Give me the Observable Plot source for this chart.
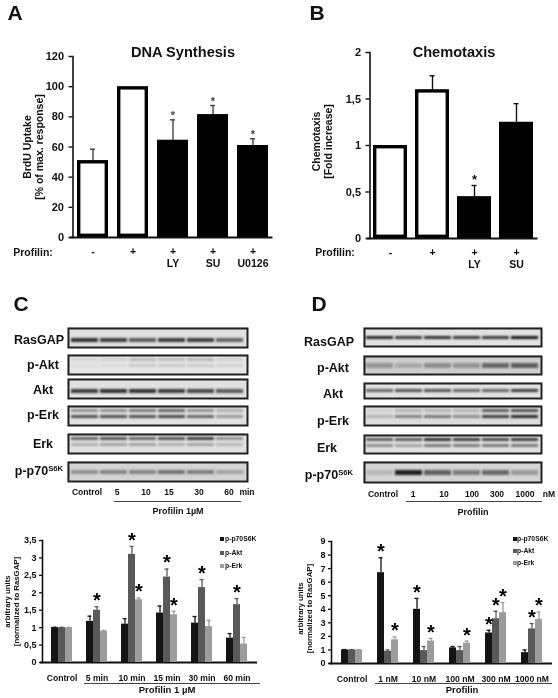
<!DOCTYPE html>
<html><head><meta charset="utf-8">
<script src="https://cdn.jsdelivr.net/npm/d3@7"></script>
<script src="https://cdn.jsdelivr.net/npm/@observablehq/plot@0.6"></script>
<style>
html,body{margin:0;padding:0;background:#fff}
#page{position:relative;width:558px;height:698px;overflow:hidden;background:#fff;filter:blur(.35px);font-family:"Liberation Sans",Arial,sans-serif;font-weight:bold;color:#111}
#page>svg,#page>div.p{position:absolute}
.t{position:absolute;white-space:nowrap;transform:translate(-50%,-50%);line-height:1}
.t sup{font-size:.62em;vertical-align:.5em;line-height:0}
.br{position:absolute;border-top:1.2px solid #444}
.sw{position:absolute;width:4px;height:4px}
</style></head><body><div id="page"></div>
<script>
// ---------- Panel A
const dnaCats = ["-", "+", "+\nLY", "+\nSU", "+\nU0126"];
const dnaValues = [51, 100, 64.5, 81.5, 61];
const dnaTops = [58.5, null, 78, 87.5, 65.5];
const dnaTreated = [false, false, true, true, true];
const dnaStars = [false, false, true, true, true];
// ---------- Panel B
const chemoCats = ["-", "+", "+\nLY", "+\nSU"];
const chemoValues = [1, 1.6, 0.45, 1.25];
const chemoTops = [null, 1.75, 0.57, 1.45];
const chemoTreated = [false, false, true, true];
const chemoStars = [false, false, true, false];
// ---------- Panels C, D bars
const seriesNames = ["p-p70S6K", "p-Akt", "p-Erk"];
const seriesColors = ["#141414", "#595959", "#9c9c9c"];
const cGroups = ["Control", "5 min", "10 min", "15 min", "30 min", "60 min"];
const cS6K = [1, 1.18, 1.1, 1.42, 1.13, 0.7];
const cS6KTop = [1.01, 1.33, 1.26, 1.62, 1.32, 0.83];
const cAkt = [1, 1.5, 3.1, 2.45, 2.15, 1.66];
const cAktTop = [1.01, 1.6, 3.33, 2.68, 2.38, 1.83];
const cErk = [1, 0.9, 1.8, 1.37, 1.03, 0.53];
const cErkTop = [1.01, 0.92, 1.85, 1.47, 1.21, 0.72];
const cStars = [["5 min","p-Akt"],["10 min","p-Akt"],["10 min","p-Erk"],["15 min","p-Akt"],["15 min","p-Erk"],["30 min","p-Akt"],["60 min","p-Akt"]];
const dGroups = ["Control", "1 nM", "10 nM", "100 nM", "300 nM", "1000 nM"];
const dS6K = [1, 6.7, 4, 1.15, 2.25, 0.8];
const dS6KTop = [1.03, 7.8, 4.8, 1.25, 2.45, 1];
const dAkt = [1, 0.9, 0.95, 0.95, 3.3, 2.55];
const dAktTop = [1.03, 1, 1.25, 1.25, 3.85, 2.95];
const dErk = [1, 1.75, 1.65, 1.5, 3.75, 3.25];
const dErkTop = [1.03, 1.95, 1.85, 1.65, 4.5, 3.8];
const dStars = [["1 nM","p-p70S6K"],["1 nM","p-Erk"],["10 nM","p-p70S6K"],["10 nM","p-Erk"],["100 nM","p-Erk"],["300 nM","p-p70S6K"],["300 nM","p-Akt"],["300 nM","p-Erk"],["1000 nM","p-Akt"],["1000 nM","p-Erk"]];
// ---------- Blot band intensities per lane (estimated)
const lanes = [0,1,2,3,4,5];
const cRasGAP = [.85,.8,.65,.8,.8,.6];
const cPAktUpper = [.08,.1,.22,.2,.22,.1], cPAktLower = [.05,.05,.12,.14,.12,.1];
const cAktBand = [.8,.85,.85,.8,.75,.65];
const cPErkUpper = [.4,.4,.5,.6,.4,.25], cPErkLower = [.7,.7,.7,.75,.6,.35];
const cErkUpper = [.6,.7,.6,.7,.8,.4], cErkLower = [.25,.3,.3,.25,.3,.2];
const cP70 = [.35,.4,.4,.5,.45,.25];
const dRasGAP = [.9,.8,.85,.8,.8,1];
const dPAkt = [.3,.2,.35,.3,.55,.6];
const dAktBand = [.6,.7,.7,.6,.6,.8];
const dPErkUpper = [.05,.2,.2,.2,.65,.7], dPErkLower = [.2,.45,.5,.4,.8,.9];
const dErkUpper = [.65,.65,.85,.8,.75,.8], dErkLower = [.4,.3,.5,.5,.5,.5];
const dP70 = [.15,.95,.6,.45,.55,.3];

const page = document.getElementById("page");
const FONT = '"Liberation Sans",Arial,sans-serif';
function label(x, y, html, size, align) {
  const s = document.createElement("div");
  s.className = "t"; s.style.left = x + "px"; s.style.top = y + "px"; s.style.fontSize = size + "px";
  if (align === "left") s.style.transform = "translate(0,-50%)";
  s.innerHTML = html; page.appendChild(s);
}
function bracket(x1, x2, y) {
  const d = document.createElement("div");
  d.className = "br"; d.style.left = x1 + "px"; d.style.width = (x2 - x1) + "px"; d.style.top = y + "px";
  page.appendChild(d);
}
function place(svg, left, top) {
  svg.style.left = left + "px"; svg.style.top = top + "px"; svg.style.maxWidth = "none";
  svg.style.background = "transparent"; svg.style.overflow = "visible"; page.appendChild(svg);
}
function simpleChart(o) {
  const rows = o.cats.map((c, i) => ({c, v: o.values[i], top: o.tops[i], black: o.treated[i], star: o.stars[i]}));
  const svg = Plot.plot({
    width: o.w, height: o.h, marginLeft: o.ml, marginRight: o.mr, marginTop: o.mt, marginBottom: o.mb,
    style: {fontFamily: FONT, fontWeight: "bold", fontSize: o.tickSize + "px", color: "#111", background: "transparent"},
    x: {domain: o.cats, paddingInner: o.pi, paddingOuter: o.pi / 2, axis: null},
    y: {domain: o.domain, axis: null},
    marks: [
      Plot.ruleX(rows.filter(d => d.top != null), {x: "c", y1: "v", y2: "top", stroke: o.errColor, strokeWidth: 1.4}),
      Plot.tickY(rows.filter(d => d.top != null), {x: "c", y: "top", stroke: o.errColor, strokeWidth: 1.4, insetLeft: (o.band - 5) / 2, insetRight: (o.band - 5) / 2}),
      Plot.barY(rows.filter(d => !d.black), {x: "c", y: "v", fill: "white", stroke: "#000", strokeWidth: 3.4, inset: 1.7}),
      Plot.barY(rows.filter(d => d.black), {x: "c", y: "v", fill: "#000"}),
      Plot.text(rows.filter(d => d.star), {x: "c", y: "top", text: () => "*", fontSize: o.starSize, dy: o.starDy, fill: o.errColor}),
      Plot.frame({anchor: "left", stroke: "#111", strokeWidth: 1.6}),
      Plot.ruleY([0], {stroke: "#111", strokeWidth: 1.8, insetLeft: -3}),
      Plot.axisY({anchor: "left", ticks: o.ticks, tickFormat: o.fmt, tickSize: 4, tickPadding: 5, label: null, stroke: "#111", strokeWidth: 1.4}),
      Plot.axisX({anchor: "bottom", tickSize: 0, tickPadding: o.xPad, label: null, lineHeight: 1.15, fontSize: 10.5}),
      Plot.text([o.ylabel], {frameAnchor: "left", textAnchor: "middle", rotate: -90, dx: o.ylDx, dy: o.ylDy, text: d => d, lineHeight: 1.15, fontSize: 10.5}),
      Plot.text([o.title], {frameAnchor: "top", dx: o.tDx, dy: o.tDy, text: d => d, fontSize: 14.6})
    ]
  });
  place(svg, o.left, o.top);
}
simpleChart({left: 0, top: 40, w: 280, h: 230, ml: 72.5, mr: 7.5, mt: 16, mb: 33, pi: .225, band: 31,
  cats: dnaCats, values: dnaValues, tops: dnaTops, treated: dnaTreated, stars: dnaStars,
  domain: [0, 120], ticks: [0,20,40,60,80,100,120], fmt: d => d, tickSize: 11, errColor: "#444",
  starSize: 11, starDy: -4, xPad: 9, title: "DNA Synthesis", tDx: 10, tDy: -10,
  ylabel: "BrdU Uptake\n[% of max. response]", ylDx: -40, ylDy: 0});
simpleChart({left: 280, top: 40, w: 278, h: 230, ml: 89.5, mr: 20.5, mt: 12, mb: 32, pi: .19, band: 34,
  cats: chemoCats, values: chemoValues, tops: chemoTops, treated: chemoTreated, stars: chemoStars,
  domain: [0, 2], ticks: [0,.5,1,1.5,2], fmt: d => String(d).replace(".", ","), tickSize: 11, errColor: "#111",
  starSize: 13, starDy: -6, xPad: 9, title: "Chemotaxis", tDx: 0, tDy: -6,
  ylabel: "Chemotaxis\n[Fold increase]", ylDx: -48, ylDy: -4});

function groupedChart(o) {
  const rows = o.groups.flatMap((g, i) => seriesNames.map((s, j) => ({g, s, v: o.vals[j][i], top: o.tops[j][i]})));
  const stars = o.stars.map(([g, s]) => rows.find(r => r.g === g && r.s === s));
  const base = {
    width: o.w, height: o.h, marginLeft: o.ml, marginRight: o.mr, marginTop: o.mt, marginBottom: o.mb,
    style: {fontFamily: FONT, fontWeight: "bold", fontSize: "9px", color: "#111", background: "transparent"}
  };
  const axes = Plot.plot({
    ...base,
    y: {domain: o.domain, axis: null},
    marks: [
      Plot.frame({anchor: "left", stroke: "#111", strokeWidth: 1.6}),
      Plot.ruleY([0], {stroke: "#111", strokeWidth: 1.8, insetLeft: -2}),
      Plot.axisY({anchor: "left", ticks: o.ticks, tickFormat: d => String(d).replace(".", ","), tickSize: 3, tickPadding: 3, label: null, stroke: "#111", strokeWidth: 1.3}),
      Plot.text([o.ylabel], {frameAnchor: "left", textAnchor: "middle", rotate: -90, dx: o.ylDx, dy: o.ylDy, text: d => d, lineHeight: 1.1, fontSize: 7.8})
    ]
  });
  const svg = Plot.plot({
    ...base,
    fx: {domain: o.groups, paddingInner: o.pi, paddingOuter: o.pi / 2, axis: null},
    x: {domain: seriesNames, padding: 0, axis: null},
    y: {domain: o.domain, axis: null},
    color: {domain: seriesNames, range: seriesColors},
    marks: [
      Plot.ruleX(rows, {fx: "g", x: "s", y1: "v", y2: "top", stroke: "s", strokeWidth: 1.3}),
      Plot.tickY(rows, {fx: "g", x: "s", y: "top", stroke: "s", strokeWidth: 1.3, insetLeft: 1.5, insetRight: 1.5}),
      Plot.barY(rows, {fx: "g", x: "s", y: "v", fill: "s"}),
      Plot.text(stars, {fx: "g", x: "s", y: "top", text: () => "*", fontSize: 20, dy: o.starDy, fill: "#000"}),
      Plot.axisFx({anchor: "bottom", tickSize: 0, tickPadding: 12, label: null, fontSize: 8.6})
    ]
  });
  place(axes, o.left, o.top);
  place(svg, o.left, o.top);
}
groupedChart({left: 0, top: 530, w: 280, h: 160, ml: 42, mr: 23, mt: 10, mb: 28, pi: .33,
  groups: cGroups, vals: [cS6K, cAkt, cErk], tops: [cS6KTop, cAktTop, cErkTop], stars: cStars,
  domain: [0, 3.5], ticks: [0,.5,1,1.5,2,2.5,3,3.5], starDy: -6,
  ylabel: "arbitrary units\n[normalized to RasGAP]", ylDx: -31, ylDy: 0});
groupedChart({left: 280, top: 530, w: 278, h: 160, ml: 51, mr: 6, mt: 11, mb: 27, pi: .35,
  groups: dGroups, vals: [dS6K, dAkt, dErk], tops: [dS6KTop, dAktTop, dErkTop], stars: dStars,
  domain: [0, 9], ticks: d3.range(0, 10), starDy: -6,
  ylabel: "arbitrary units\n[normalized to RasGAP]", ylDx: -27, ylDy: 6});

function legend(xs, xt, ys) {
  seriesNames.forEach((n, i) => {
    const s = document.createElement("div"); s.className = "sw";
    s.style.left = xs + "px"; s.style.top = (ys[i] - 2) + "px"; s.style.background = seriesColors[i];
    page.appendChild(s);
    label(xt, ys[i], n, 6.8, "left");
  });
}
legend(220, 225, [539, 553, 566]);
legend(513, 517, [539, 551, 563]);

function blot(left, top, w, h, bg, bands, yOpts) {
  const names = Object.keys(bands);
  const rows = names.flatMap(b => bands[b].map((v, i) => ({lane: lanes[i], b, v})));
  const svg = Plot.plot({
    width: w, height: h, margin: 0, style: {background: bg},
    x: {domain: lanes, padding: .06, axis: null},
    y: {domain: names, axis: null, ...yOpts},
    opacity: {type: "identity"},
    marks: [
      Plot.cell(rows, {x: "lane", y: "b", fill: "#111", fillOpacity: "v"}),
      Plot.frame({stroke: "#222", strokeWidth: 2, inset: 1})
    ]
  });
  svg.querySelectorAll('[aria-label="cell"]').forEach(g => g.style.filter = "blur(1px)");
  place(svg, left, top);
  svg.style.background = bg;
}
const one = {paddingInner: 0, paddingOuter: 2, align: .62};
const two = {paddingInner: .55, paddingOuter: .9, align: .35};
blot(67, 327, 181, 21, "#e0e0e0", {a: cRasGAP}, one);
blot(67, 354, 181, 21, "#e6e6e6", {a: cPAktUpper, b: cPAktLower}, two);
blot(67, 378, 181, 21, "#e0e0e0", {a: cAktBand}, one);
blot(67, 405, 181, 21, "#e2e2e2", {a: cPErkUpper, b: cPErkLower}, two);
blot(67, 433, 181, 21, "#e2e2e2", {a: cErkUpper, b: cErkLower}, two);
blot(67, 461, 181, 21, "#d4d4d4", {a: cP70}, {paddingInner: 0, paddingOuter: 2, align: .5});
blot(363, 327, 179, 20, "#e2e2e2", {a: dRasGAP}, {paddingInner: 0, paddingOuter: 2.2, align: .5});
blot(363, 355, 179, 20, "#cfcfcf", {a: dPAkt}, {paddingInner: 0, paddingOuter: 1.4, align: .55});
blot(363, 382, 179, 17, "#e2e2e2", {a: dAktBand}, {paddingInner: 0, paddingOuter: 2, align: .5});
blot(363, 405, 179, 21, "#dddddd", {a: dPErkUpper, b: dPErkLower}, two);
blot(363, 434, 179, 20, "#e2e2e2", {a: dErkUpper, b: dErkLower}, two);
blot(363, 461, 179, 22, "#d4d4d4", {a: dP70}, {paddingInner: 0, paddingOuter: 1.6, align: .55});

// Panel letters
label(15, 12, "A", 21); label(317, 12, "B", 21); label(21, 303, "C", 21); label(319, 303, "D", 21);
// Row names
[["RasGAP",39,340],["p-Akt",43,365],["Akt",43,390],["p-Erk",43,415],["Erk",43,444],["p-p70<sup>S6K</sup>",39,471]]
  .forEach(([t,x,y]) => label(x, y, t, 12.5));
[["RasGAP",329,342],["p-Akt",333,368],["Akt",333,394],["p-Erk",333,421],["Erk",327,448],["p-p70<sup>S6K</sup>",329,475]]
  .forEach(([t,x,y]) => label(x, y, t, 12.5));
// Lane captions
[["Control",87],["5",117],["10",146],["15",169],["30",199],["60",229],["min",247]].forEach(([t,x]) => label(x, 492, t, 8.5));
[["Control",383],["1",413],["10",444],["100",472],["300",497],["1000",525],["nM",549]].forEach(([t,x]) => label(x, 494, t, 8.5));
bracket(114, 241, 501); label(178, 511, "Profilin 1µM", 9);
bracket(406, 542, 501); label(473, 512, "Profilin", 9);
bracket(84, 260, 683); label(167, 690, "Profilin 1 µM", 9.5);
bracket(375, 552, 683); label(462, 690, "Profilin", 9.5);
// Row heading of panels A, B
label(33, 252, "Profilin:", 10.5); label(335, 252, "Profilin:", 10.5);
</script></body></html>
